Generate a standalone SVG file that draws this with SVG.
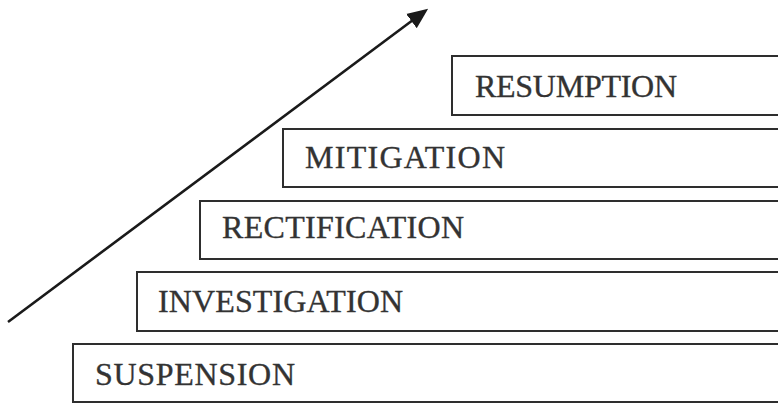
<svg xmlns="http://www.w3.org/2000/svg" width="778" height="403" viewBox="0 0 778 403">
<style>
.box{fill:none;stroke:#2e2e2e;stroke-width:2}
.lbl{font-family:"Liberation Serif","Times New Roman",serif;font-size:32px;fill:#333;stroke:#333;stroke-width:0.35}
.arrow{stroke:#1a1a1a;stroke-width:2.6;fill:none}
</style>
<defs>
<marker id="ah" markerWidth="8" markerHeight="8" refX="6.5" refY="4" orient="auto" markerUnits="strokeWidth">
<path d="M0,0.6 L8,4 L0,7.4 Z" fill="#1a1a1a"/>
</marker>
</defs>
<rect width="778" height="403" fill="#fff"/>
<g id="resumption">
<rect class="box" x="452" y="56" width="340" height="59"/>
<text class="lbl" x="475" y="97" textLength="202">RESUMPTION</text>
</g>
<g id="mitigation">
<rect class="box" x="283" y="129" width="510" height="58"/>
<text class="lbl" x="305" y="168" textLength="200">MITIGATION</text>
</g>
<g id="rectification">
<rect class="box" x="200" y="201" width="590" height="58"/>
<text class="lbl" x="222" y="238" textLength="242">RECTIFICATION</text>
</g>
<g id="investigation">
<rect class="box" x="137" y="272" width="650" height="59"/>
<text class="lbl" x="158" y="312" textLength="245">INVESTIGATION</text>
</g>
<g id="suspension">
<rect class="box" x="73" y="344" width="720" height="58"/>
<text class="lbl" x="95" y="385" textLength="200">SUSPENSION</text>
</g>
<g id="connectors">
<line class="arrow" x1="8" y1="322" x2="425" y2="11" marker-end="url(#ah)"/>
</g>
</svg>
